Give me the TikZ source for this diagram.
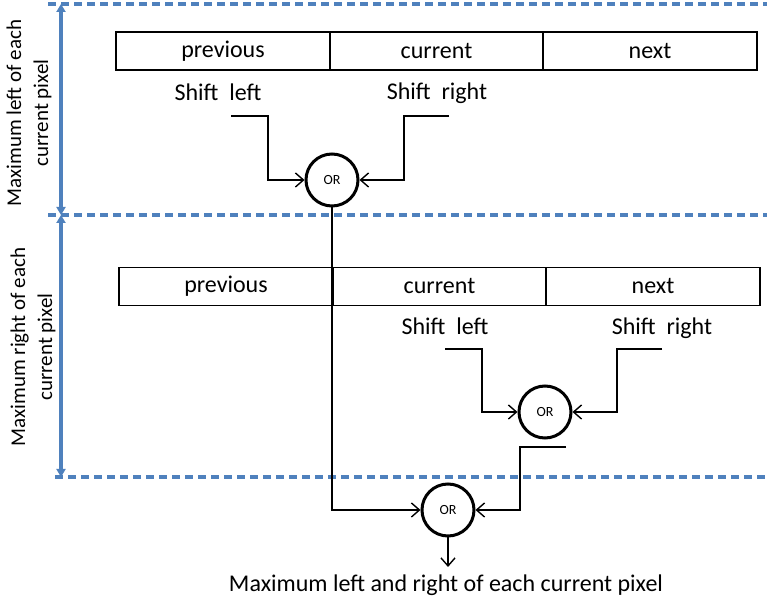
\documentclass[tikz,border=0pt]{standalone}
\usepackage{fontspec}
\setmainfont{Carlito}
\usetikzlibrary{arrows.meta}
\definecolor{officeblue}{RGB}{79,129,189}
\tikzset{
  cell/.style={draw,line width=0.9pt,minimum width=107pt,minimum height=19pt,inner sep=0pt,font=\fontsize{12}{14}\selectfont},
  gate/.style={draw,circle,line width=1.5pt,minimum size=26pt,inner sep=0pt,fill=white,font=\fontsize{7}{8}\selectfont},
  lbl/.style={font=\fontsize{12}{14}\selectfont},
  sidelbl/.style={rotate=90,align=center,font=\fontsize{10.5}{13.5}\selectfont},
  flow/.style={line width=0.7pt,-{Straight Barb[length=4pt,width=7pt]}},
  divider/.style={officeblue,line width=1.6pt,dash pattern=on 4pt off 2.5pt},
  bluespan/.style={officeblue,line width=1.6pt,{Triangle[length=4pt,width=4.5pt]}-{Triangle[length=4pt,width=4.5pt]}}
}

\begin{document}
\begin{tikzpicture}[x=0.5pt,y=-0.5pt]
          \useasboundingbox (0,0) rectangle (767,598);
          % levels
          \draw[divider] (48,4)--(767,4);
          \draw[divider] (48,215)--(767,215);
          \draw[divider] (55,477)--(767,477);
          \draw[bluespan] (61,4)--(61,215);
          \draw[bluespan] (61,215)--(61,477);
          \node[sidelbl] (lblleft) at (29,113) {Maximum left of each\\current pixel};
          \node[sidelbl] (lblright) at (33,347) {Maximum right of each\\current pixel};
          % first row
          \node[cell] (prev1) at (223,51) {previous};
          \node[cell] (cur1) at (436.5,51) {current};
          \node[cell] (next1) at (650,51) {next};
          \node[lbl] (sl1) at (218,92) {Shift~~left};
          \node[lbl] (sr1) at (437,93) {Shift~~right};
          \node[gate] (or1) at (332,180) {OR};
          \coordinate (sl1in) at (231,116);
          \coordinate (sr1in) at (449,116);
          \draw[flow] (sl1in) -- ++(37,0) |- (or1);
          \draw[flow] (sr1in) -- ++(-45,0) |- (or1);
          % second row
          \node[cell] (prev2) at (226,286.5) {previous};
          \node[cell] (cur2) at (439.5,286.5) {current};
          \node[cell] (next2) at (653,286.5) {next};
          \node[lbl] (sl2) at (445,326) {Shift~~left};
          \node[lbl] (sr2) at (662,328) {Shift~~right};
          \node[gate] (or2) at (545,412) {OR};
          \coordinate (sl2in) at (445,349);
          \coordinate (sr2in) at (662,349);
          \draw[flow] (sl2in) -- ++(37,0) |- (or2);
          \draw[flow] (sr2in) -- ++(-45,0) |- (or2);
          % result
          \node[gate] (or3) at (448,510) {OR};
          \coordinate (or2out) at (566,447);
          \coordinate (res) at (448,567);
          \draw[flow] (or1) |- (or3);
          \draw[flow] (or2out) -- ++(-46,0) |- (or3);
          \draw[flow] (or3) -- (res);
          \node[lbl] (result) at (446,585) {Maximum left and right of each current pixel};
        \end{tikzpicture}
\end{document}
